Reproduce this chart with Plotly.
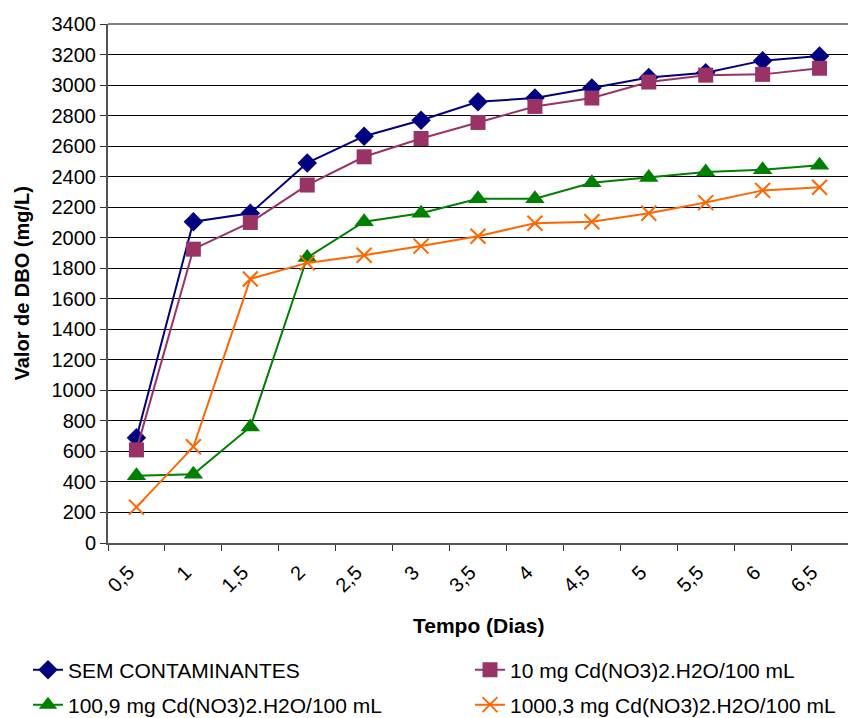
import plotly.graph_objects as go

# Tempo (dias) — category labels
dias = ["0,5", "1", "1,5", "2", "2,5", "3", "3,5", "4", "4,5", "5", "5,5", "6", "6,5"]

# Valor de DBO (mg/L) for each series
sem_contaminantes = [690, 2105, 2160, 2490, 2665, 2770, 2890, 2915, 2980, 3050, 3080, 3160, 3190]
cd_10 = [610, 1925, 2100, 2345, 2530, 2650, 2755, 2860, 2915, 3020, 3065, 3070, 3110]
cd_100_9 = [440, 450, 760, 1870, 2105, 2160, 2255, 2255, 2360, 2395, 2430, 2445, 2475]
cd_1000_3 = [235, 630, 1730, 1835, 1885, 1945, 2010, 2095, 2105, 2160, 2230, 2310, 2330]

FONT = "Liberation Sans, Arial, sans-serif"
FS = 20
FS_LEG = 21

# name, values, colour, marker symbol, marker size, legend slot (x, y in container px)
series = [
    ("SEM CONTAMINANTES", sem_contaminantes, "#000080", "diamond", 15, (28, 670)),
    ("10 mg Cd(NO3)2.H2O/100 mL", cd_10, "#993366", "square", 15, (470, 670)),
    ("100,9 mg Cd(NO3)2.H2O/100 mL", cd_100_9, "#008000", "triangle-up", 17, (28, 705)),
    ("1000,3 mg Cd(NO3)2.H2O/100 mL", cd_1000_3, "#FF6600", "x-thin", 15, (470, 705)),
]

W, H = 848, 718
ML, MR, MT, MB = 108, 0, 24, 175
fig = go.Figure()
legends = {}
for i, (name, vals, color, symbol, size, (lx, ly)) in enumerate(series):
    marker = dict(symbol=symbol, size=size, color=color)
    if symbol == "x-thin":
        marker["line"] = dict(color=color, width=2)
    key = "legend" if i == 0 else f"legend{i + 1}"
    fig.add_trace(go.Scatter(
        x=dias, y=vals, name=name, mode="lines+markers",
        line=dict(color=color, width=2),
        marker=marker, legend=key, showlegend=True,
    ))
    legends[key] = dict(
        xref="container", yref="container",
        x=lx / W, y=1 - ly / H, xanchor="left", yanchor="middle",
        font=dict(family=FONT, size=FS_LEG, color="#000000"),
        bgcolor="rgba(0,0,0,0)", itemwidth=30, visible=True,
    )

fig.update_layout(
    width=W, height=H, showlegend=True,
    # fixed margins: the legends sit in the bottom band and must not resize the plot
    margin=dict(l=ML, r=MR, t=MT, b=MB, autoexpand=False),
    paper_bgcolor="white", plot_bgcolor="white",
    font=dict(family=FONT, size=FS, color="#000000"),
    **legends,
    xaxis=dict(
        type="category", tickson="boundaries", tickangle=-45,
        ticks="outside", ticklen=6, tickcolor="#333333", tickwidth=1,
        showline=True, linecolor="#555555", linewidth=2, mirror=False,
        showgrid=False, range=[-0.5, 12.5], ticksuffix="\u00a0\u00a0",
        tickfont=dict(family=FONT, size=FS),
    ),
    yaxis=dict(
        range=[0, 3400], dtick=200, tickformat="d",
        ticks="outside", ticklen=6, tickcolor="#333333", tickwidth=1,
        showline=True, linecolor="#555555", linewidth=2,
        showgrid=True, gridcolor="#000000", gridwidth=1, zeroline=False,
        tickfont=dict(family=FONT, size=FS),
    ),
)

plot_w = W - ML - MR
plot_h = H - MT - MB

# axis titles
fig.add_annotation(
    text="<b>Valor de DBO (mg/L)</b>", textangle=-90,
    xref="paper", yref="paper", x=(21 - ML) / plot_w, y=0.5,
    xanchor="center", yanchor="middle", showarrow=False,
    font=dict(family=FONT, size=FS, color="#000000"),
)
fig.add_annotation(
    text="<b>Tempo (Dias)</b>",
    xref="paper", yref="paper", x=0.5, y=-(625 - (H - MB)) / plot_h,
    xanchor="center", yanchor="middle", showarrow=False,
    font=dict(family=FONT, size=FS_LEG, color="#000000"),
)

# gray top border of the plot area
fig.add_shape(type="line", xref="paper", yref="paper", x0=0, x1=1, y0=1, y1=1,
              line=dict(color="#808080", width=2))

fig.write_html("out.html")
